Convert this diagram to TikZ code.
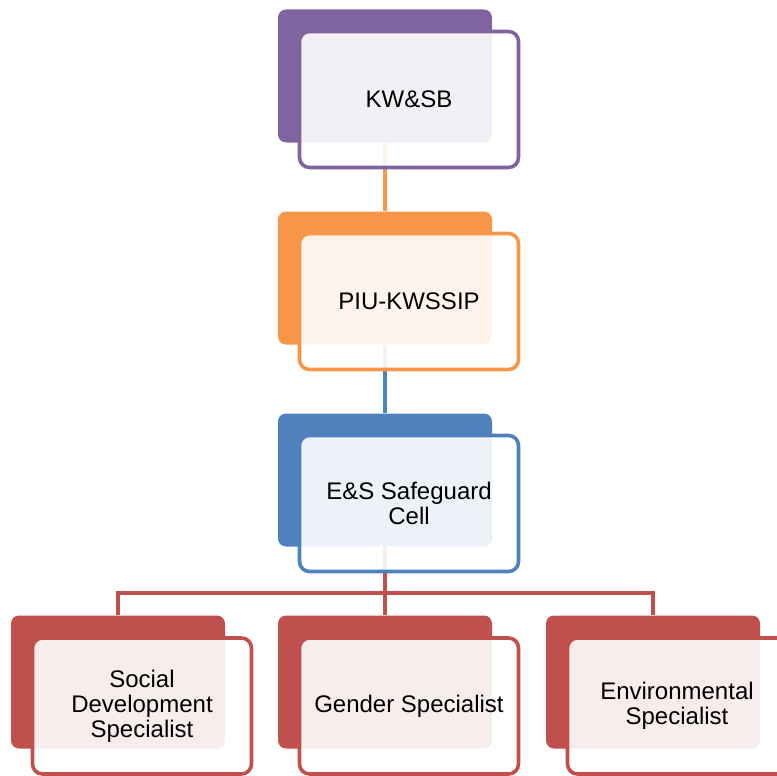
\documentclass[tikz,border=0pt]{standalone}
\usepackage{fontspec}
\setmainfont{Liberation Sans}
\definecolor{cpurple}{HTML}{8064A2}
\definecolor{corange}{HTML}{F79646}
\definecolor{cblue}{HTML}{4F81BD}
\definecolor{cred}{HTML}{C0504D}
\tikzset{
  backbox/.style={draw=none, fill=#1, rounded corners=8pt, minimum width=214pt, minimum height=133pt, inner sep=0pt},
  frontbox/.style={draw=#1, line width=3.6pt, fill=white, fill opacity=0.9, text opacity=1, rounded corners=10pt, minimum width=219pt, minimum height=136pt, inner sep=0pt, align=center, font=\fontsize{24}{25}\selectfont},
  conn/.style={draw=#1, line width=3.8pt}
}
\begin{document}
\begin{tikzpicture}[x=1pt, y=-1pt]
\useasboundingbox (0,0) rectangle (777,776);
\clip (0,0) rectangle (777,776);
% back boxes
\node[backbox=cpurple] (b1) at (385,76) {};
\node[backbox=corange] (b2) at (385,278) {};
\node[backbox=cblue] (b3) at (385,480) {};
\node[backbox=cred] (b4) at (118,682) {};
\node[backbox=cred] (b5) at (385,682) {};
\node[backbox=cred] (b6) at (653,682) {};
% connectors
\coordinate (hbar) at (385,593);
\draw[conn=corange] (b1.south) -- (b2.north);
\draw[conn=cblue] (b2.south) -- (b3.north);
\draw[conn=cred] (b3.south) -- (b5.north);
\draw[conn=cred] (b4.north) |- (hbar) -| (b6.north);
% front boxes
\node[frontbox=cpurple] (f1) at (409,99.5) {KW\&SB};
\node[frontbox=corange] (f2) at (409,301.5) {PIU-KWSSIP};
\node[frontbox=cblue] (f3) at (409,503.5) {E\&S Safeguard\\Cell};
\node[frontbox=cred] (f4) at (142,706) {Social\\Development\\Specialist};
\node[frontbox=cred] (f5) at (409,706) {Gender Specialist};
\node[frontbox=cred] (f6) at (677,706) {Environmental\\Specialist};
\end{tikzpicture}
\end{document}
